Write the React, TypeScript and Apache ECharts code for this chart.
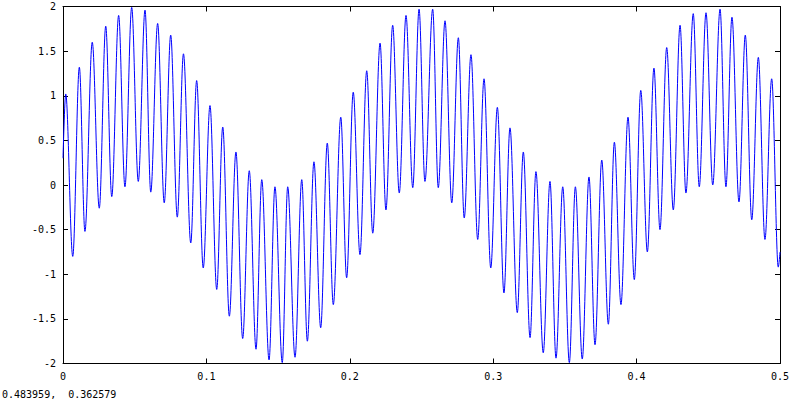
import React, { useEffect, useRef } from "react";
import * as echarts from "echarts";

// Extrema of the plotted signal (x in data units, y values)
const xs: number[] = [
  0, 0.0019, 0.0068, 0.0114, 0.0153, 0.0204, 0.0253, 0.0298, 0.034, 0.0388,
  0.0432, 0.0479, 0.0525, 0.0572, 0.0612, 0.066, 0.0706, 0.0751, 0.0797, 0.084,
  0.0891, 0.0932, 0.0978, 0.1025, 0.1072, 0.1114, 0.116, 0.1206, 0.1253, 0.1299,
  0.1346, 0.1386, 0.1437, 0.1478, 0.1529, 0.1567, 0.1618, 0.1665, 0.1704, 0.175,
  0.1797, 0.1843, 0.1885, 0.1937, 0.1978, 0.2024, 0.2071, 0.2118, 0.216, 0.2211,
  0.2252, 0.2299, 0.2345, 0.2392, 0.2439, 0.2483, 0.2524, 0.2578, 0.2617, 0.2664,
  0.2711, 0.2757, 0.2798, 0.2845, 0.2892, 0.2936, 0.2983, 0.3029, 0.3075, 0.3117,
  0.3168, 0.321, 0.3257, 0.3298, 0.3349, 0.3396, 0.3438, 0.3485, 0.3531, 0.3573,
  0.3621, 0.3668, 0.371, 0.3757, 0.3803, 0.3845, 0.3891, 0.394, 0.3984, 0.4029,
  0.4075, 0.4121, 0.4163, 0.421, 0.4256, 0.4303, 0.4344, 0.4395, 0.4437, 0.4484,
  0.4531, 0.4582, 0.4623, 0.4665, 0.4714, 0.4758, 0.4803, 0.4849, 0.4895, 0.4942,
  0.4988, 0.5,
];

const ys: number[] = [
  0.3, 1.02, -0.8, 1.32, -0.52, 1.6, -0.26, 1.78, -0.13, 1.9,
  -0.02, 1.99, 0.04, 1.96, -0.08, 1.81, -0.2, 1.68, -0.36, 1.47,
  -0.65, 1.17, -0.93, 0.89, -1.17, 0.65, -1.47, 0.37, -1.72, 0.16,
  -1.84, 0.06, -1.96, -0.02, -1.99, -0.02, -1.93, 0.06, -1.75, 0.26,
  -1.6, 0.47, -1.34, 0.76, -1.04, 1.04, -0.78, 1.28, -0.54, 1.59,
  -0.28, 1.79, -0.09, 1.9, -0.03, 1.97, 0.04, 1.97, -0.03, 1.84,
  -0.2, 1.65, -0.37, 1.46, -0.61, 1.19, -0.93, 0.87, -1.21, 0.64,
  -1.43, 0.37, -1.71, 0.15, -1.88, 0.04, -1.94, -0.02, -1.99, -0.02,
  -1.95, 0.09, -1.79, 0.28, -1.56, 0.48, -1.34, 0.76, -1.06, 1.06,
  -0.75, 1.31, -0.5, 1.54, -0.28, 1.79, -0.09, 1.92, -0.02, 1.93,
  0.0, 1.97, -0.02, 1.88, -0.19, 1.68, -0.39, 1.43, -0.61, 1.19,
  -0.92, -0.75,
];

const statusText = "0.483959,  0.362579";

const FONT = "DejaVu Sans Mono";

export default function App() {
  const ref = useRef<HTMLDivElement>(null);
  useEffect(() => {
    if (!ref.current) return;
    const chart = echarts.init(ref.current, undefined, { renderer: "svg" });
    const data = xs.map((x, i) => [x, ys[i]]);
    const axisLine = { show: true, onZero: false, lineStyle: { color: "#000", width: 1 } };
    const tick = { show: true, inside: true, length: 5, lineStyle: { color: "#000" } };
    chart.setOption({
      animation: false,
      backgroundColor: "#fff",
      grid: { left: 63, right: 20, top: 6.5, bottom: 36.5, containLabel: false },
      xAxis: [
        {
          type: "value",
          min: 0,
          max: 0.5,
          interval: 0.1,
          position: "bottom",
          axisLine,
          axisTick: tick,
          splitLine: { show: false },
          axisLabel: { color: "#000", fontFamily: FONT, fontSize: 10, margin: 8 },
        },
        {
          type: "value",
          min: 0,
          max: 0.5,
          interval: 0.1,
          position: "top",
          axisLine,
          axisTick: tick,
          splitLine: { show: false },
          axisLabel: { show: false },
        },
      ],
      yAxis: [
        {
          type: "value",
          min: -2,
          max: 2,
          interval: 0.5,
          position: "left",
          axisLine,
          axisTick: tick,
          splitLine: { show: false },
          axisLabel: { color: "#000", fontFamily: FONT, fontSize: 10, margin: 7 },
        },
        {
          type: "value",
          min: -2,
          max: 2,
          interval: 0.5,
          position: "right",
          axisLine,
          axisTick: tick,
          splitLine: { show: false },
          axisLabel: { show: false },
        },
      ],
      series: [
        {
          type: "line",
          data,
          xAxisIndex: 0,
          yAxisIndex: 0,
          showSymbol: false,
          symbol: "none",
          smooth: 0.35,
          smoothMonotone: "x",
          lineStyle: { color: "#0000ff", width: 1 },
        },
      ],
      graphic: [
        {
          type: "text",
          left: 2,
          top: 389,
          style: { text: statusText, fill: "#000", font: `10px ${FONT}` },
        },
      ],
    });
    return () => chart.dispose();
  }, []);
  return <div ref={ref} style={{ width: 800, height: 400, position: "fixed", left: 0, top: 0 }} />;
}
